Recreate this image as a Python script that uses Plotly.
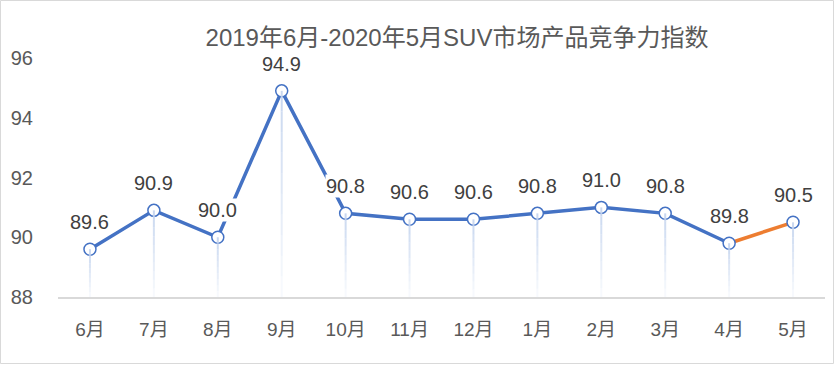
import plotly.graph_objects as go

months = ["6月", "7月", "8月", "9月", "10月", "11月", "12月", "1月", "2月", "3月", "4月", "5月"]
values = [89.6, 90.9, 90.0, 94.9, 90.8, 90.6, 90.6, 90.8, 91.0, 90.8, 89.8, 90.5]
labels = ["89.6", "90.9", "90.0", "94.9", "90.8", "90.6", "90.6", "90.8", "91.0", "90.8", "89.8", "90.5"]
y_base = 88
y_ticks = [88, 90, 92, 94, 96]

W, H = 835, 365
ML, MR, MT, MB = 58, 10, 58, 68

fig = go.Figure()

fig.add_trace(go.Scatter(x=months[:-1], y=values[:-1], mode="lines",
                         line=dict(color="#4472c4", width=3.5), showlegend=False))
fig.add_trace(go.Scatter(x=months[-2:], y=values[-2:], mode="lines",
                         line=dict(color="#ed7d31", width=3.5), showlegend=False))
fig.add_trace(go.Scatter(x=months, y=values, mode="markers",
                         marker=dict(symbol="circle", size=12, color="white",
                                     line=dict(color="#4472c4", width=1.5)),
                         showlegend=False))

# drop lines (fading), drawn over the markers
for i, (m, v) in enumerate(zip(months, values)):
    n = 10
    for k in range(n):
        y0 = y_base + (v - y_base) * k / n
        y1 = y_base + (v - y_base) * (k + 1) / n
        a = 0.05 + 0.85 * (k + 1) / n
        fig.add_trace(go.Scatter(x=[m, m], y=[y0, y1], mode="lines",
                                 line=dict(color=f"rgba(196,212,238,{a:.2f})", width=2),
                                 hoverinfo="skip", showlegend=False))

for m, v, t in zip(months, values, labels):
    fig.add_annotation(x=m, y=v, text=t, showarrow=False, yshift=27,
                       font=dict(size=20, color="#404040", family="Liberation Sans, Arial"),
                       bgcolor="white", borderpad=0)

pw = W - ML - MR
ph = H - MT - MB
fig.add_shape(type="rect", xref="paper", yref="paper",
              x0=-(ML - 0.5) / pw, x1=1 + (MR - 1.5) / pw,
              y0=-(MB - 1.5) / ph, y1=1 + (MT - 0.5) / ph,
              line=dict(color="#d9d9d9", width=1))

cjk = "Liberation Sans, Noto Sans CJK SC"
fig.update_layout(
    width=W, height=H,
    margin=dict(l=ML, r=MR, t=MT, b=MB, autoexpand=False),
    paper_bgcolor="white", plot_bgcolor="white",
    font=dict(family="Liberation Sans, Arial", color="#595959", size=16),
    title=dict(text="2019年6月-2020年5月SUV市场产品竞争力指数", x=457 / W, xanchor="center",
               y=1 - 38 / H, yanchor="middle",
               font=dict(size=24, color="#595959", family=cjk)),
    xaxis=dict(type="category", showgrid=False, showline=True, linecolor="#d9d9d9", linewidth=1.5,
               ticks="", ticklabelstandoff=14, automargin=False,
               tickfont=dict(size=19, color="#595959", family=cjk),
               range=[-0.5, 11.5], fixedrange=True),
    yaxis=dict(range=[88, 96], tickvals=y_ticks, showgrid=False, zeroline=False, showline=False,
               ticks="", ticklabelstandoff=24, automargin=False,
               tickfont=dict(size=20, color="#595959")),
)

fig.write_html("out.html", config={"displayModeBar": False},
               post_script="document.body.style.margin='0';document.body.style.overflow='hidden';")
